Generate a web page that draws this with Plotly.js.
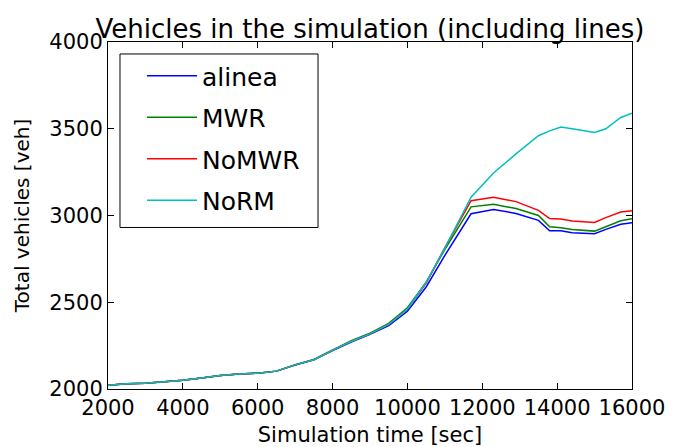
<!DOCTYPE html>
<html>
<head>
<meta charset="utf-8">
<script src="https://cdn.plot.ly/plotly-3.0.1.min.js"></script>
<style>html,body{margin:0;padding:0;background:#fff;} #chart{width:678px;height:447px;}</style>
</head>
<body>
<div id="chart"></div>
<script>
var timeSec = [2000, 2500, 3000, 3500, 4000, 4500, 5000, 5500, 6000, 6500, 7000, 7500, 8000, 8500, 9000, 9500, 10000, 10500, 11000, 11700, 12300, 12900, 13500, 13800, 14100, 14400, 15000, 15300, 15700, 16000];
var alinea = [2022, 2030, 2033, 2040, 2050, 2063, 2078, 2087, 2091, 2103, 2138, 2168, 2222, 2270, 2315, 2365, 2448, 2588, 2770, 3010, 3035, 3012, 2972, 2912, 2912, 2900, 2895, 2920, 2950, 2958];
var mwr    = [2022, 2030, 2033, 2040, 2050, 2063, 2078, 2087, 2091, 2103, 2140, 2170, 2226, 2278, 2322, 2378, 2468, 2615, 2805, 3050, 3065, 3040, 3000, 2935, 2930, 2920, 2910, 2935, 2970, 2982];
var nomwr  = [2022, 2030, 2033, 2040, 2050, 2063, 2078, 2087, 2091, 2103, 2139, 2169, 2224, 2274, 2318, 2372, 2460, 2610, 2815, 3085, 3105, 3080, 3030, 2982, 2980, 2968, 2960, 2988, 3020, 3028];
var norm   = [2022, 2030, 2033, 2040, 2050, 2063, 2078, 2087, 2091, 2103, 2139, 2169, 2224, 2274, 2318, 2372, 2460, 2615, 2812, 3105, 3245, 3355, 3460, 3488, 3510, 3500, 3478, 3500, 3565, 3590];
var seriesNames = ['alinea', 'MWR', 'NoMWR', 'NoRM'];
var seriesColors = ['#0000ff', '#008000', '#ff0000', '#00bfbf'];
var seriesValues = [alinea, mwr, nomwr, norm];
var xTicks = [2000, 4000, 6000, 8000, 10000, 12000, 14000, 16000];
var yTicks = [2000, 2500, 3000, 3500, 4000];

var font = 'DejaVu Sans, sans-serif';
var traces = seriesValues.map(function (vals, i) {
  return {
    x: timeSec, y: vals, type: 'scatter', mode: 'lines',
    name: seriesNames[i], legendgroup: 'g' + i,
    line: {color: seriesColors[i], width: 1.5}
  };
});

var axisCommon = {
  showgrid: false, zeroline: false, showline: true, linecolor: '#000', linewidth: 1,
  mirror: 'ticks', ticks: 'inside', ticklen: 6, tickwidth: 1, tickcolor: '#000',
  tickfont: {family: font, size: 21, color: '#000'}
};

var layout = {
  width: 678, height: 447,
  margin: {l: 108, r: 46, t: 42, b: 58},
  paper_bgcolor: '#fff', plot_bgcolor: '#fff',
  title: {text: 'Vehicles in the simulation (including lines)', font: {family: font, size: 26, color: '#000'},
          x: 0.5, xref: 'paper', xanchor: 'center', y: 1, yref: 'paper', yanchor: 'bottom', pad: {b: 4}},
  xaxis: Object.assign({}, axisCommon, {
    range: [2000, 16000], tickvals: xTicks, ticktext: xTicks.map(String),
    title: {text: 'Simulation time [sec]', font: {family: font, size: 21, color: '#000'}, standoff: 8}
  }),
  yaxis: Object.assign({}, axisCommon, {
    range: [2000, 4000], tickvals: yTicks, ticktext: yTicks.map(String),
    title: {text: 'Total vehicles [veh]', font: {family: font, size: 20, color: '#000'}, standoff: 14}
  }),
  showlegend: true,
  legend: {
    x: 0.0649, y: 0.968, xanchor: 'left', yanchor: 'top', xref: 'paper', yref: 'paper',
    bgcolor: 'rgba(0,0,0,0)', borderwidth: 0, tracegroupgap: 6, itemwidth: 50,
    font: {family: font, size: 25, color: '#000'}
  },
  shapes: [{
    type: 'rect', xref: 'paper', yref: 'paper', x0: 0.0229, x1: 0.4008, y0: 0.4655, y1: 0.9655,
    line: {color: '#000', width: 1}, fillcolor: '#fff', layer: 'above'
  }]
};

Plotly.newPlot('chart', traces, layout, {displayModeBar: false, staticPlot: true});
</script>
</body>
</html>
